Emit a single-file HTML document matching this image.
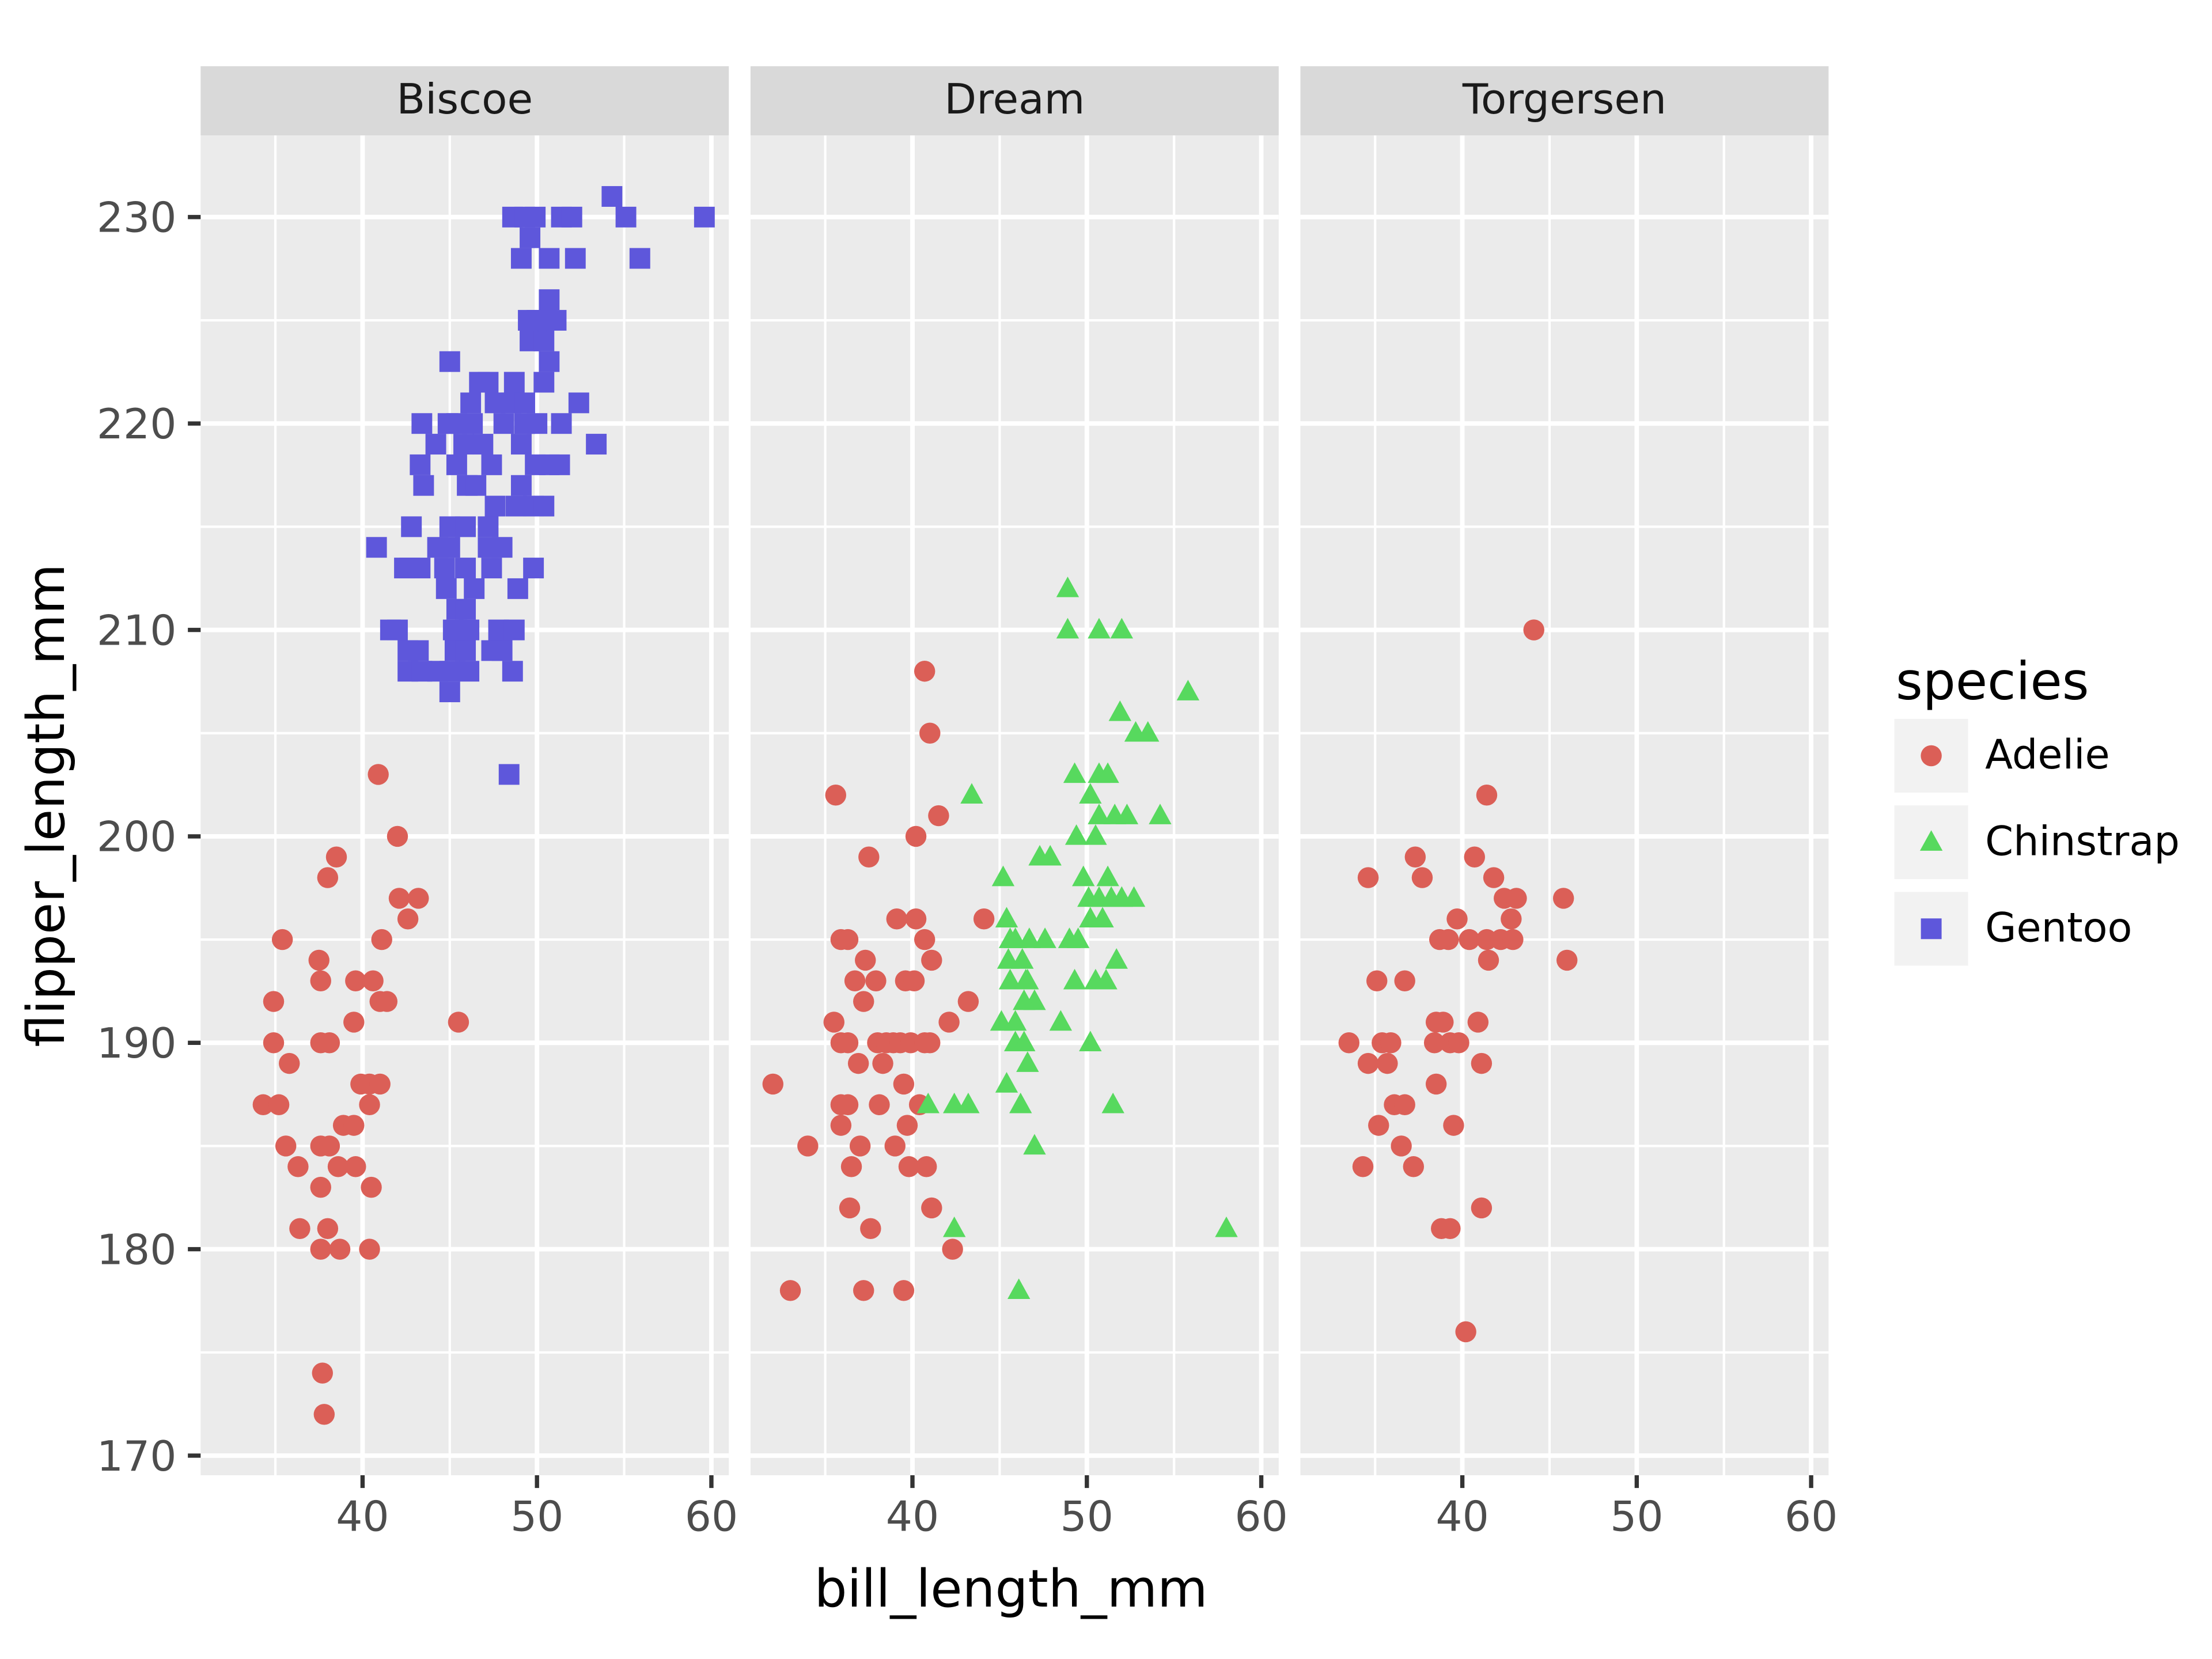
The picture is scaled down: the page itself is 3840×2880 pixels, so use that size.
<!DOCTYPE html>
<html><head><meta charset="utf-8"><style>
html,body{margin:0;padding:0;background:#fff;}
svg{display:block;font-family:"DejaVu Sans","Liberation Sans",sans-serif;}
</style></head><body>
<svg id="chart" width="3840" height="2880" viewBox="0 0 1560 1170" xmlns="http://www.w3.org/2000/svg">
<rect width="1560" height="1170" fill="#fff"/>
<g id="panels"></g>
<g id="axes"></g>
<g id="legend"></g>
</svg>
<script>
const islands = ["Biscoe","Dream","Torgersen"];
const speciesNames = ["Adelie","Chinstrap","Gentoo"];
const xTicks = [40,50,60];
const xMinor = [35,45,55];
const yTicks = [170,180,190,200,210,220,230];
const yMinor = [175,185,195,205,215,225];
const biscoeAdelie = [[34.3,187],[35.2,187],[34.9,192],[34.9,190],[35.4,195],[35.8,189],[35.6,185],[36.3,184],[36.4,181],[37.5,194],[37.6,193],[37.6,190],[38.1,190],[37.6,185],[38.1,185],[37.6,183],[38.0,181],[37.6,180],[38.7,180],[37.7,174],[37.8,172],[38.0,198],[38.5,199],[38.9,186],[39.5,186],[39.6,193],[39.5,191],[39.6,184],[39.9,188],[40.4,188],[40.6,193],[40.4,187],[40.5,183],[40.4,180],[41.0,188],[41.0,192],[41.1,195],[41.4,192],[40.9,203],[42.0,200],[42.1,197],[42.6,196],[43.2,197],[45.5,191],[38.6,184]];
const biscoeGentoo = [[54.3,231],[55.1,230],[59.6,230],[55.9,228],[48.6,230],[49.3,230],[49.9,230],[49.6,229],[49.1,228],[50.7,228],[51.4,230],[52.0,230],[52.2,228],[50.7,226],[50.3,225],[49.6,224],[50.4,224],[50.7,223],[49.5,225],[50.0,225],[50.6,225],[51.1,225],[52.4,221],[53.4,219],[45.0,223],[46.7,222],[47.2,222],[48.7,222],[46.2,221],[47.6,221],[50.4,222],[43.4,220],[44.9,220],[45.4,220],[46.3,220],[48.1,220],[49.3,220],[50.0,220],[51.4,220],[48.5,221],[49.3,221],[44.2,219],[45.8,219],[46.9,219],[49.1,219],[43.3,218],[45.4,218],[47.4,218],[49.9,218],[50.7,218],[51.3,218],[43.5,217],[46.0,217],[46.5,217],[47.6,216],[49.1,217],[49.8,216],[50.4,216],[48.8,216],[42.8,215],[45.0,215],[45.9,215],[47.2,215],[40.8,214],[44.3,214],[45.0,214],[47.2,214],[48.0,214],[42.7,213],[43.3,213],[44.7,213],[45.9,213],[47.4,213],[48.9,212],[49.8,213],[42.4,213],[44.8,212],[46.4,212],[45.4,211],[41.6,210],[42.0,210],[45.2,210],[46.1,210],[47.8,210],[48.7,210],[45.3,209],[45.9,209],[47.4,209],[48.0,209],[42.6,209],[43.2,209],[42.6,208],[43.4,208],[44.3,208],[45.0,208],[46.1,208],[48.6,208],[45.0,207],[48.4,203],[45.9,211]];
const dreamAdelie = [[32.0,188],[33.0,178],[34.0,185],[35.6,202],[35.5,191],[35.9,195],[36.3,195],[35.9,190],[36.3,190],[35.9,187],[36.3,187],[35.9,186],[36.5,184],[36.4,182],[36.7,193],[36.9,189],[37.0,185],[37.2,192],[37.3,194],[37.5,199],[37.2,178],[37.6,181],[37.9,193],[38.0,190],[38.1,187],[38.3,189],[38.5,190],[38.9,190],[39.0,185],[39.1,196],[39.3,190],[39.5,188],[39.5,178],[39.7,186],[39.8,184],[39.6,193],[40.1,193],[40.2,200],[40.2,196],[39.9,190],[40.4,187],[40.7,195],[40.7,208],[40.8,184],[41.0,205],[41.0,190],[41.1,182],[41.1,194],[41.5,201],[42.1,191],[42.3,180],[43.2,192],[44.1,196],[40.7,190]];
const dreamChinstrap = [[48.9,212],[48.9,210],[50.7,210],[52.0,210],[55.8,207],[51.9,206],[52.8,205],[53.5,205],[43.4,202],[49.3,203],[50.7,203],[51.2,203],[50.2,202],[50.7,201],[51.6,201],[52.3,201],[54.2,201],[49.4,200],[50.5,200],[47.3,199],[47.9,199],[45.2,198],[49.8,198],[51.2,198],[50.1,197],[50.7,197],[51.4,197],[52.0,197],[52.7,197],[45.4,196],[50.2,196],[50.9,196],[45.6,195],[45.9,195],[46.7,195],[47.6,195],[49.0,195],[49.5,195],[45.5,194],[46.3,194],[51.7,194],[45.6,193],[46.6,193],[49.3,193],[50.5,193],[51.1,193],[45.1,191],[47.0,192],[46.4,192],[48.5,191],[45.9,190],[46.4,190],[50.2,190],[46.6,189],[45.4,188],[46.2,187],[40.9,187],[42.4,187],[43.2,187],[51.5,187],[47.0,185],[42.4,181],[58.0,181],[46.1,178],[45.9,191],[46.5,193]];
const torgersenAdelie = [[44.1,210],[41.4,202],[37.3,199],[40.7,199],[34.6,198],[37.7,198],[41.8,198],[42.4,197],[43.1,197],[45.8,197],[39.7,196],[38.7,195],[39.2,195],[40.4,195],[41.4,195],[42.2,195],[42.9,195],[42.8,196],[35.1,193],[36.7,193],[41.5,194],[46.0,194],[33.5,190],[35.4,190],[35.9,190],[38.5,191],[38.9,191],[39.3,190],[38.4,190],[39.8,190],[40.9,191],[34.6,189],[35.7,189],[41.1,189],[38.5,188],[36.1,187],[36.7,187],[35.2,186],[39.5,186],[36.5,185],[34.3,184],[37.2,184],[38.8,181],[39.3,181],[41.1,182],[40.2,176]];

const NS="http://www.w3.org/2000/svg";
const colors={Adelie:"#db5f57",Chinstrap:"#57d95e",Gentoo:"#5e57db"};
const panelLeft=[141.5,529.3,917.1], panelW=372.5, panelTop=95.5, panelBot=1040.4, stripTop=46.7;
function xs(v,p){return panelLeft[p]+114.2+(v-40)*12.3;}
function ys(v){return 153.1+(230-v)*14.558;}
function mk(tag,attrs,parent){const e=document.createElementNS(NS,tag);for(const k in attrs)e.setAttribute(k,attrs[k]);parent.appendChild(e);return e;}
function marker(sp,cx,cy,parent){
  let e;
  if(sp==="Adelie") e=mk("circle",{cx:cx,cy:cy,r:7.4,fill:colors[sp]},parent);
  else if(sp==="Chinstrap") e=mk("polygon",{points:`${cx-8},${cy+6} ${cx+8},${cy+6} ${cx},${cy-8.5}`,fill:colors[sp]},parent);
  else e=mk("rect",{x:cx-7.3,y:cy-7.3,width:14.6,height:14.6,fill:colors[sp]},parent);
  return e;
}
const panels=document.getElementById("panels");
const axes=document.getElementById("axes");
islands.forEach((isl,p)=>{
  const g=mk("g",{},panels);
  
  
  const strip=mk("rect",{x:panelLeft[p],y:stripTop,width:panelW,height:panelTop-stripTop,fill:"#d9d9d9"},g);
  
  
  const st=mk("text",{x:panelLeft[p]+panelW/2,y:80,"text-anchor":"middle","font-size":29.5,fill:"#1a1a1a"},g);
  st.textContent=isl;
  
  
  mk("rect",{x:panelLeft[p],y:panelTop,width:panelW,height:panelBot-panelTop,fill:"#ebebeb"},g);
  yMinor.forEach(v=>mk("line",{x1:panelLeft[p],x2:panelLeft[p]+panelW,y1:ys(v),y2:ys(v),stroke:"#fff","stroke-width":1.7},g));
  xMinor.forEach(v=>mk("line",{y1:panelTop,y2:panelBot,x1:xs(v,p),x2:xs(v,p),stroke:"#fff","stroke-width":1.7},g));
  yTicks.forEach(v=>mk("line",{x1:panelLeft[p],x2:panelLeft[p]+panelW,y1:ys(v),y2:ys(v),stroke:"#fff","stroke-width":3.2},g));
  xTicks.forEach(v=>mk("line",{y1:panelTop,y2:panelBot,x1:xs(v,p),x2:xs(v,p),stroke:"#fff","stroke-width":3.2},g));
  xTicks.forEach(v=>{
    mk("line",{x1:xs(v,p),x2:xs(v,p),y1:panelBot,y2:panelBot+9,stroke:"#333","stroke-width":3},axes);
    const t=mk("text",{x:xs(v,p),y:1079.6,"text-anchor":"middle","font-size":29.5,fill:"#4d4d4d"},axes);
    t.textContent=v;
    
    
  });
});
function plot(data,sp,p){
  const g=mk("g",{},panels);
  
  
  data.forEach(d=>{
    const m=marker(sp,xs(d[0],p),ys(d[1]),g);
    
    
  });
}
plot(biscoeAdelie,"Adelie",0);
plot(biscoeGentoo,"Gentoo",0);
plot(dreamAdelie,"Adelie",1);
plot(dreamChinstrap,"Chinstrap",1);
plot(torgersenAdelie,"Adelie",2);
yTicks.forEach(v=>{
  mk("line",{x1:132.5,x2:141.5,y1:ys(v),y2:ys(v),stroke:"#333","stroke-width":3},axes);
  const t=mk("text",{x:124.5,y:ys(v)+10.5,"text-anchor":"end","font-size":29.5,fill:"#4d4d4d"},axes);
  t.textContent=v;
  
  
});
const xt=mk("text",{x:713,y:1133,"text-anchor":"middle","font-size":36.5,fill:"#000"},axes);
xt.textContent="bill_length_mm";


const yt=mk("text",{x:0,y:0,"text-anchor":"middle","font-size":36.5,fill:"#000",transform:"translate(45,568) rotate(-90)"},axes);
yt.textContent="flipper_length_mm";


const lg=document.getElementById("legend");
const lt=mk("text",{x:1337,y:493,"font-size":36.5,fill:"#000"},lg);
lt.textContent="species";


speciesNames.forEach((sp,i)=>{
  const top=507+i*61;
  const g=mk("g",{},lg);
  
  
  mk("rect",{x:1336,y:top,width:52,height:52,fill:"#f2f2f2"},g);
  marker(sp,1362,top+26,g);
  const t=mk("text",{x:1400,y:top+35,"font-size":28.5,fill:"#000"},g);
  t.textContent=sp;
});
</script>
</body></html>
